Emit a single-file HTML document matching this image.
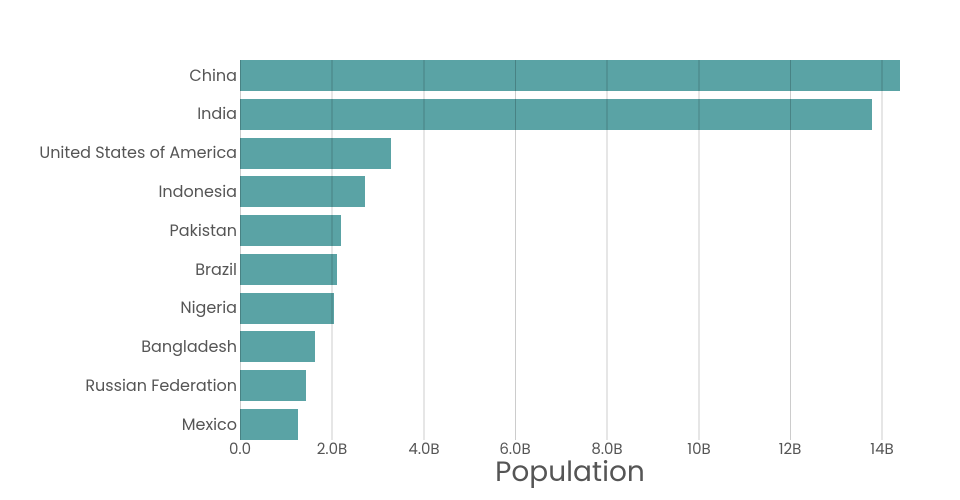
<!DOCTYPE html><html><head><style>body{margin:0;background:#fff}svg{display:block}</style></head><body>
<svg width="960" height="500" xmlns="http://www.w3.org/2000/svg" font-family="Poppins, 'Liberation Sans', sans-serif">
<g fill="#5aa3a5">
<rect x="240" y="60" width="660" height="31"/>
<rect x="240" y="99" width="632" height="31"/>
<rect x="240" y="138" width="151" height="31"/>
<rect x="240" y="176" width="125" height="31"/>
<rect x="240" y="215" width="101" height="31"/>
<rect x="240" y="254" width="97" height="31"/>
<rect x="240" y="293" width="94" height="31"/>
<rect x="240" y="331" width="75" height="31"/>
<rect x="240" y="370" width="66" height="31"/>
<rect x="240" y="409" width="58" height="31"/>
</g>
<g stroke="#000" stroke-opacity="0.2" stroke-width="1">
<line x1="240.5" y1="60" x2="240.5" y2="440"/>
<line x1="332" y1="60" x2="332" y2="440"/>
<line x1="424" y1="60" x2="424" y2="440"/>
<line x1="515.5" y1="60" x2="515.5" y2="440"/>
<line x1="607" y1="60" x2="607" y2="440"/>
<line x1="699" y1="60" x2="699" y2="440"/>
<line x1="790.5" y1="60" x2="790.5" y2="440"/>
<line x1="882" y1="60" x2="882" y2="440"/>
</g>
<g fill="#555" font-size="16" text-anchor="end">
<text x="237" y="81">China</text>
<text x="237" y="119">India</text>
<text x="237" y="158">United States of America</text>
<text x="237" y="197">Indonesia</text>
<text x="237" y="236">Pakistan</text>
<text x="237" y="275">Brazil</text>
<text x="237" y="313">Nigeria</text>
<text x="237" y="352">Bangladesh</text>
<text x="237" y="391">Russian Federation</text>
<text x="237" y="430">Mexico</text>
</g>
<g fill="#555" font-size="15" text-anchor="middle">
<text x="240" y="454">0.0</text>
<text x="332" y="454">2.0B</text>
<text x="424" y="454">4.0B</text>
<text x="515" y="454">6.0B</text>
<text x="607" y="454">8.0B</text>
<text x="699" y="454">10B</text>
<text x="790" y="454">12B</text>
<text x="882" y="454">14B</text>
</g>
<text x="570" y="481" fill="#555" font-size="28" text-anchor="middle">Population</text>
</svg>
</body></html>
